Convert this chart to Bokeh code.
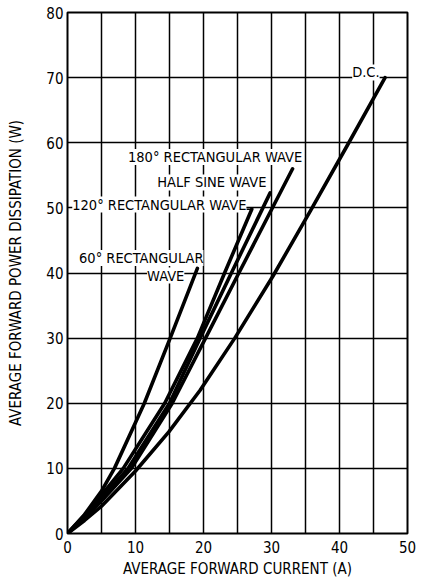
from bokeh.plotting import figure
from bokeh.models import FixedTicker, Label, Range1d
from bokeh.embed import file_html
from bokeh.resources import INLINE

# ---- data ----
dc_x = [0, 2.5, 5, 10, 14.9, 19.5, 24.6, 30.2, 35.7, 41.1, 46.7]
dc_y = [0, 2.0, 4.2, 9.6, 15.6, 22.0, 30, 39.5, 49.5, 59.5, 70.0]

r180_x = [0, 2.5, 5, 9.4, 15.4, 20.3, 25.2, 33.1]
r180_y = [0, 2.4, 5.0, 10, 20, 30, 40, 56.0]

hs_x = [0, 2.5, 5, 8.9, 15.0, 19.5, 24.1, 29.8]
hs_y = [0, 2.6, 5.4, 10, 20, 30, 40, 52.3]

r120_x = [0, 2.5, 5, 8.2, 14.3, 19.1, 23.1, 27.1]
r120_y = [0, 2.8, 5.9, 10, 20, 30, 40, 49.8]

r60_x = [0, 2.5, 5, 6.9, 11.3, 15.1, 19.1]
r60_y = [0, 2.9, 6.5, 10, 20, 30, 40.7]

x_ticks = [0, 10, 20, 30, 40, 50]
x_grid = [0, 5, 10, 15, 20, 25, 30, 35, 40, 45, 50]
y_ticks = [0, 10, 20, 30, 40, 50, 60, 70, 80]

FONT = "'DejaVu Sans Condensed', sans-serif"

p = figure(width=421, height=586, x_range=Range1d(0, 50), y_range=Range1d(0, 80),
           output_backend="svg", toolbar_location=None,
           min_border_left=67, min_border_right=14, min_border_top=12, min_border_bottom=53)

p.outline_line_color = "black"
p.outline_line_width = 2
p.outline_line_alpha = 1
p.background_fill_color = "white"

p.xaxis.ticker = FixedTicker(ticks=x_ticks)
p.yaxis.ticker = FixedTicker(ticks=y_ticks)
p.xgrid.ticker = FixedTicker(ticks=x_grid)
p.ygrid.ticker = FixedTicker(ticks=y_ticks)
for g in (p.xgrid, p.ygrid):
    g.grid_line_color = "black"
    g.grid_line_width = 1.5
    g.grid_line_alpha = 1

for ax in (p.xaxis, p.yaxis):
    ax.axis_line_color = None
    ax.major_tick_line_color = None
    ax.minor_tick_line_color = None
    ax.major_tick_in = 0
    ax.major_tick_out = 0
    ax.minor_tick_in = 0
    ax.minor_tick_out = 0
    ax.major_label_text_font = FONT
    ax.major_label_text_font_size = "15px"
    ax.major_label_text_color = "black"
    ax.axis_label_text_font = FONT
    ax.axis_label_text_font_size = "15px"
    ax.axis_label_text_font_style = "normal"
    ax.axis_label_text_color = "black"

p.xaxis.axis_label = "AVERAGE FORWARD CURRENT (A)"
p.yaxis.axis_label = "AVERAGE FORWARD POWER DISSIPATION (W)"
p.xaxis.major_label_standoff = 7
p.yaxis.major_label_standoff = 4
p.xaxis.axis_label_standoff = 4
p.yaxis.axis_label_standoff = 18

for xs, ys in ((dc_x, dc_y), (r180_x, r180_y), (hs_x, hs_y), (r120_x, r120_y), (r60_x, r60_y)):
    p.line(xs, ys, line_color="black", line_width=3.6, line_join="round", line_cap="round")

# leader from the 120 deg label to its curve end
p.line([r120_x[-1] - 0.8, r120_x[-1]], [r120_y[-1], r120_y[-1]], line_color="black", line_width=1.5)

def lab(x, y, t, align="left"):
    p.add_layout(Label(x=x, y=y, text=t, text_font=FONT, text_font_size="14.5px",
                       text_align=align, text_baseline="middle", text_color="black",
                       background_fill_color="white", background_fill_alpha=1))

lab(45.9, 70.8, "D.C.", "right")
lab(8.9, 57.8, "180\u00b0 RECTANGULAR WAVE")
lab(13.2, 53.9, "HALF SINE WAVE")
lab(0.7, 50.5, "120\u00b0 RECTANGULAR WAVE")
lab(1.7, 42.3, "60\u00b0 RECTANGULAR")
lab(11.7, 39.6, "WAVE")

open("out.html", "w").write(file_html(p, INLINE))
